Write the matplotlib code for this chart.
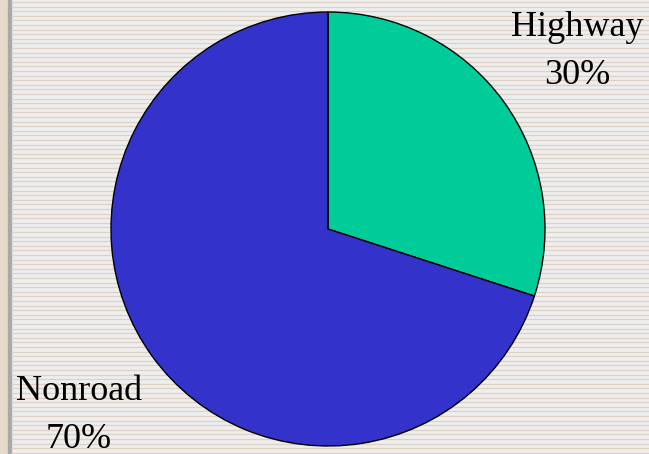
import numpy as np
import matplotlib
matplotlib.use('Agg')

import matplotlib.pyplot as plt

labels = ['Highway', 'Nonroad']
shares = [30, 70]
colors = ['#00CC99', '#3333CC']

W, H = 649, 454

fig = plt.figure(figsize=(W / 100, H / 100), dpi=100)
ax = fig.add_axes([0, 0, 1, 1])

# textured slide background
fig.patch.set_facecolor('#EEEEEE')
ax.axvspan(0, 8, color='#E6DACA', zorder=0)
ax.axvspan(8, 10.5, color='#A8A8A8', zorder=0)
for y in np.arange(H - 2, 0, -4.6):
    ax.hlines(y, 10.5, W, color='#DDD2C4', lw=0.9, zorder=0)

ax.pie(shares, colors=colors, startangle=90, counterclock=False,
       center=(328, H - 229), radius=217,
       wedgeprops=dict(edgecolor='black', linewidth=1.0), frame=True)
ax.set_xlim(0, W)
ax.set_ylim(0, H)
ax.axis('off')

font = dict(family='Liberation Serif', fontsize=26, color='black',
            ha='center', va='center')
ax.text(577, H - 52, f'{labels[0]}\n{shares[0]}%', linespacing=1.6, **font)
ax.text(79, H - 415, f'{labels[1]}\n{shares[1]}%', linespacing=1.6, **font)

fig.savefig('out.png', dpi=100)
